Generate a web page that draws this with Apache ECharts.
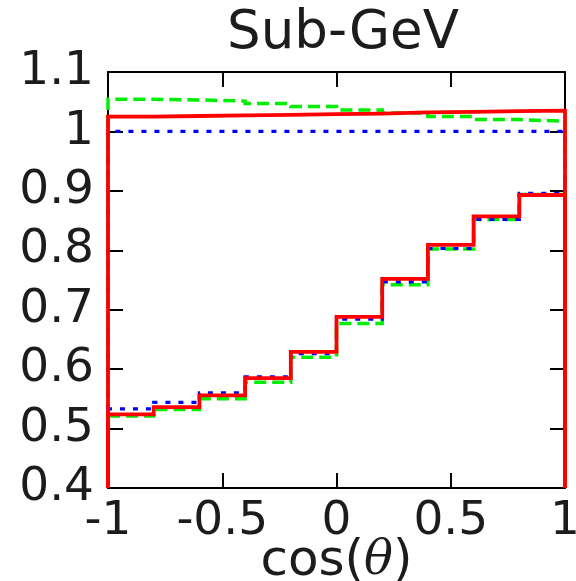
<!DOCTYPE html>
<html>
<head>
<meta charset="utf-8">
<script src="https://cdn.jsdelivr.net/npm/echarts@6/dist/echarts.min.js"></script>
<style>
  html, body { margin: 0; padding: 0; background: #fff; }
  #chart { width: 576px; height: 581px; }
</style>
</head>
<body>
<div id="chart"></div>
<script>
// Zenith-angle bins (cos theta), 10 bins of width 0.2
const binEdges = [-1, -0.8, -0.6, -0.4, -0.2, 0, 0.2, 0.4, 0.6, 0.8, 1];

// Upper group of histograms
const redUpper   = [1.025, 1.026, 1.027, 1.028, 1.029, 1.030, 1.032, 1.033, 1.034, 1.035];
const greenUpper = [1.054, 1.053, 1.051, 1.047, 1.042, 1.036, 1.031, 1.025, 1.020, 1.017];
const blueUpper  = [1.000, 1.000, 1.000, 1.000, 1.000, 1.000, 1.000, 1.000, 1.000, 1.000];

// Lower group of histograms
const redLower   = [0.524, 0.536, 0.556, 0.585, 0.629, 0.688, 0.752, 0.809, 0.857, 0.893];
const greenLower = [0.521, 0.532, 0.550, 0.578, 0.620, 0.677, 0.742, 0.802, 0.852, 0.894];
const blueLower  = [0.533, 0.544, 0.560, 0.587, 0.626, 0.684, 0.747, 0.803, 0.852, 0.896];

// Tick labels
const xTickLabels = ['-1', '-0.5', '0', '0.5', '1'];
const xTickValues = [-1, -0.5, 0, 0.5, 1];
const yTickLabels = ['0.4', '0.5', '0.6', '0.7', '0.8', '0.9', '1', '1.1'];
const yTickValues = [0.4, 0.5, 0.6, 0.7, 0.8, 0.9, 1.0, 1.1];

const Y_MIN = 0.4, Y_MAX = 1.1;

// Build a histogram outline (steps with vertical edges down to the axis floor)
function stepOutline(values) {
  const pts = [[binEdges[0], Y_MIN]];
  values.forEach((v, i) => {
    pts.push([binEdges[i], v]);
    pts.push([binEdges[i + 1], v]);
  });
  pts.push([binEdges[binEdges.length - 1], Y_MIN]);
  return pts;
}

function labelFor(values, labels) {
  return function (v) {
    for (let i = 0; i < values.length; i++) {
      if (Math.abs(values[i] - v) < 1e-6) return labels[i];
    }
    return '';
  };
}

const FONT = 'DejaVu Sans';
const INK = '#1c1c1c';

const GREEN = { color: '#00ee00', width: 3.5, type: [12, 6] };
const BLUE  = { color: '#0000ff', width: 3.2, type: [5, 8] };
const RED   = { color: '#ff0000', width: 3.8, type: 'solid' };

function histSeries(values, style, z) {
  return {
    type: 'line',
    data: stepOutline(values),
    showSymbol: false,
    symbol: 'none',
    silent: true,
    z: z,
    lineStyle: { color: style.color, width: style.width, type: style.type, cap: 'butt', join: 'miter' },
    animation: false
  };
}

const frameAxisCommon = {
  axisLine: { show: true, onZero: false, lineStyle: { color: '#000', width: 2 } },
  axisTick: { show: true, inside: true, length: 15, lineStyle: { color: '#000', width: 2 } },
  splitLine: { show: false }
};

const chart = echarts.init(document.getElementById('chart'), null, { renderer: 'canvas' });

chart.setOption({
  backgroundColor: '#fff',
  animation: false,
  title: {
    text: 'Sub-GeV',
    left: 338,
    top: 3,
    textAlign: 'center',
    textStyle: { fontFamily: FONT, fontSize: 53, fontWeight: 'normal', color: INK }
  },
  grid: { left: 108, right: 11, top: 72, bottom: 93, containLabel: false, outerBoundsMode: 'none' },
  xAxis: [
    Object.assign({}, frameAxisCommon, {
      type: 'value', position: 'bottom', min: -1, max: 1, interval: 0.5,
      axisLabel: {
        show: true, margin: 10, fontFamily: FONT, fontSize: 47, color: INK,
        formatter: labelFor(xTickValues, xTickLabels)
      },
      name: '{r|cos(}{t|θ}{r|)}',
      nameLocation: 'middle',
      nameGap: 49,
      nameMoveOverlap: false,
      nameTextStyle: {
        rich: {
          r: { fontFamily: FONT, fontSize: 50, color: INK },
          t: { fontFamily: 'DejaVu Serif', fontStyle: 'italic', fontSize: 48, color: INK }
        }
      }
    }),
    Object.assign({}, frameAxisCommon, {
      type: 'value', position: 'top', min: -1, max: 1, interval: 0.5,
      axisLabel: { show: false }
    })
  ],
  yAxis: [
    Object.assign({}, frameAxisCommon, {
      type: 'value', position: 'left', min: Y_MIN, max: Y_MAX, interval: 0.1,
      axisLabel: {
        show: true, margin: 14, fontFamily: FONT, fontSize: 47, color: INK,
        formatter: labelFor(yTickValues, yTickLabels)
      }
    }),
    Object.assign({}, frameAxisCommon, {
      type: 'value', position: 'right', min: Y_MIN, max: Y_MAX, interval: 0.1,
      axisLabel: { show: false }
    })
  ],
  series: [
    histSeries(greenUpper, GREEN, 2),
    histSeries(blueUpper, BLUE, 3),
    histSeries(greenLower, GREEN, 2),
    histSeries(blueLower, BLUE, 3),
    histSeries(redUpper, RED, 4),
    histSeries(redLower, RED, 4)
  ]
});
</script>
</body>
</html>
